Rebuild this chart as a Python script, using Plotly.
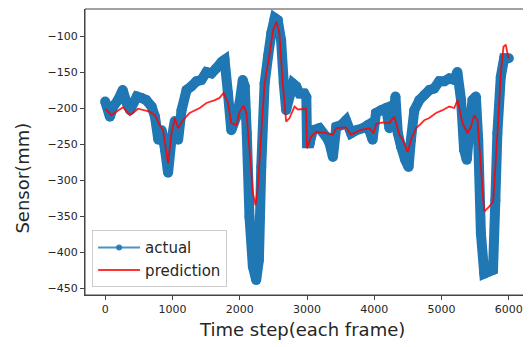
import plotly.graph_objects as go

# ---- data ----
actual_frame = [0, 70, 120, 190, 260, 320, 370, 470, 540, 610, 690, 740, 790, 840, 890, 935, 985, 1035, 1085, 1135,
                1210, 1280, 1355, 1430, 1505, 1580, 1650, 1730, 1775, 1825, 1875, 1950, 2000, 2045, 2075, 2105, 2145,
                2195, 2245, 2285, 2320, 2370, 2420, 2470, 2520, 2565, 2615, 2655, 2690, 2740, 2790, 2840, 2890, 2960,
                2990, 3000, 3040, 3085, 3185, 3285, 3335, 3385, 3435, 3505, 3580, 3655, 3730, 3830, 3900, 3975, 4025,
                4100, 4175, 4225, 4275, 4315, 4350, 4400, 4460, 4510, 4545, 4595, 4670, 4745, 4820, 4890, 4965, 5040,
                5115, 5190, 5235, 5290, 5335, 5375, 5410, 5460, 5510, 5545, 5585, 5635, 5710, 5765, 5800, 5830, 5880,
                5930, 6000]
actual_value = [-191, -212, -198, -189, -175, -193, -203, -184, -186, -189, -198, -212, -244, -231, -258, -290, -244,
                -218, -244, -203, -175, -170, -163, -161, -150, -152, -145, -136, -133, -180, -231, -212, -192, -161,
                -170, -235, -351, -420, -439, -411, -282, -166, -129, -96, -75, -78, -106, -166, -203, -184, -166,
                -170, -180, -180, -185, -249, -249, -231, -228, -240, -249, -268, -226, -224, -217, -235, -231, -228,
                -224, -244, -207, -203, -200, -228, -217, -184, -235, -254, -272, -282, -244, -203, -189, -182, -175,
                -173, -163, -163, -159, -161, -150, -189, -258, -272, -235, -189, -184, -244, -374, -430, -427, -425,
                -328, -235, -157, -131, -131]

pred_frame = [0, 95, 170, 265, 365, 490, 660, 740, 810, 860, 935, 985, 1035, 1085, 1155, 1255, 1405, 1505, 1630, 1700,
              1760, 1825, 1875, 1950, 2000, 2060, 2100, 2145, 2195, 2235, 2270, 2320, 2370, 2445, 2495, 2545, 2590,
              2640, 2690, 2740, 2815, 2865, 2985, 3000, 3060, 3135, 3285, 3385, 3435, 3580, 3655, 3780, 3925, 3990,
              4030, 4130, 4224, 4298, 4372, 4421, 4496, 4546, 4620, 4669, 4743, 4818, 4917, 5015, 5114, 5189, 5237,
              5312, 5386, 5436, 5485, 5534, 5585, 5634, 5708, 5767, 5831, 5881, 5920, 5955, 5994]
pred_value = [-201, -210, -205, -199, -210, -201, -205, -210, -224, -231, -277, -235, -214, -228, -217, -207, -200,
              -193, -189, -186, -179, -193, -221, -224, -205, -197, -207, -258, -318, -335, -309, -235, -166, -124,
              -92, -80, -96, -166, -219, -214, -198, -202, -201, -256, -240, -233, -235, -237, -228, -227, -237, -231,
              -228, -235, -222, -220, -221, -212, -237, -244, -261, -244, -228, -224, -217, -214, -207, -203, -198,
              -200, -189, -221, -235, -226, -210, -217, -282, -344, -337, -330, -235, -152, -115, -112, -131]

x_ticks = [0, 1000, 2000, 3000, 4000, 5000, 6000]
y_ticks = [-450, -400, -350, -300, -250, -200, -150, -100]
y_ticktext = ["\u2212" + str(abs(v)) for v in y_ticks]

BLUE = "#1f77b4"
FONT = "DejaVu Sans"
TXT = "#262626"
AX = "#444444"

fig = go.Figure()
fig.add_trace(go.Scatter(x=actual_frame, y=actual_value, mode="lines+markers",
                         line=dict(color=BLUE, width=10, simplify=False), marker=dict(color=BLUE, size=10),
                         showlegend=False, hoverinfo="skip"))
fig.add_trace(go.Scatter(x=pred_frame, y=pred_value, mode="lines",
                         line=dict(color="rgba(255,0,0,0.85)", width=1.8, simplify=False),
                         showlegend=False, hoverinfo="skip"))
# legend entries
fig.add_trace(go.Scatter(x=[None], y=[None], mode="lines+markers", name="actual",
                         line=dict(color="rgba(31,119,180,0.8)", width=2),
                         marker=dict(color="rgba(31,119,180,0.9)", size=6)))
fig.add_trace(go.Scatter(x=[None], y=[None], mode="lines", name="prediction",
                         line=dict(color="rgba(255,0,0,0.8)", width=2)))

axis_common = dict(showline=True, linecolor=AX, linewidth=1, ticks="outside",
                   ticklen=4, tickcolor=AX, showgrid=False, zeroline=False,
                   tickfont=dict(family=FONT, size=11, color=TXT))

fig.update_xaxes(range=[-300, 6300], tickvals=x_ticks, **axis_common)
fig.update_yaxes(range=[-459.7, -62.5], tickvals=y_ticks, ticktext=y_ticktext, **axis_common)

# page body has an 8px default margin, so the figure is sized/offset to compensate
fig.update_layout(
    width=523, height=339,
    margin=dict(l=77, r=2, t=1, b=52),
    plot_bgcolor="white", paper_bgcolor="white",
    font=dict(family=FONT, color=TXT),
    legend=dict(x=0.016, y=0.027, xanchor="left", yanchor="bottom", itemwidth=42,
                bgcolor="rgba(255,255,255,0.8)", bordercolor="#cccccc", borderwidth=1,
                font=dict(family=FONT, size=15, color=TXT), tracegroupgap=0),
    shapes=[dict(type="rect", xref="paper", yref="paper", x0=0, y0=0, x1=1, y1=1,
                 line=dict(color=AX, width=1), layer="above")],
    annotations=[
        dict(text="Time step(each frame)", xref="paper", yref="paper", x=0.489, y=-0.12,
             xanchor="center", yanchor="middle", showarrow=False,
             font=dict(family=FONT, size=18, color=TXT)),
        dict(text="Sensor(mm)", xref="paper", yref="paper", x=-0.14, y=0.41,
             xanchor="center", yanchor="middle", showarrow=False, textangle=-90,
             font=dict(family=FONT, size=18, color=TXT)),
    ],
)

fig.write_html("out.html")
